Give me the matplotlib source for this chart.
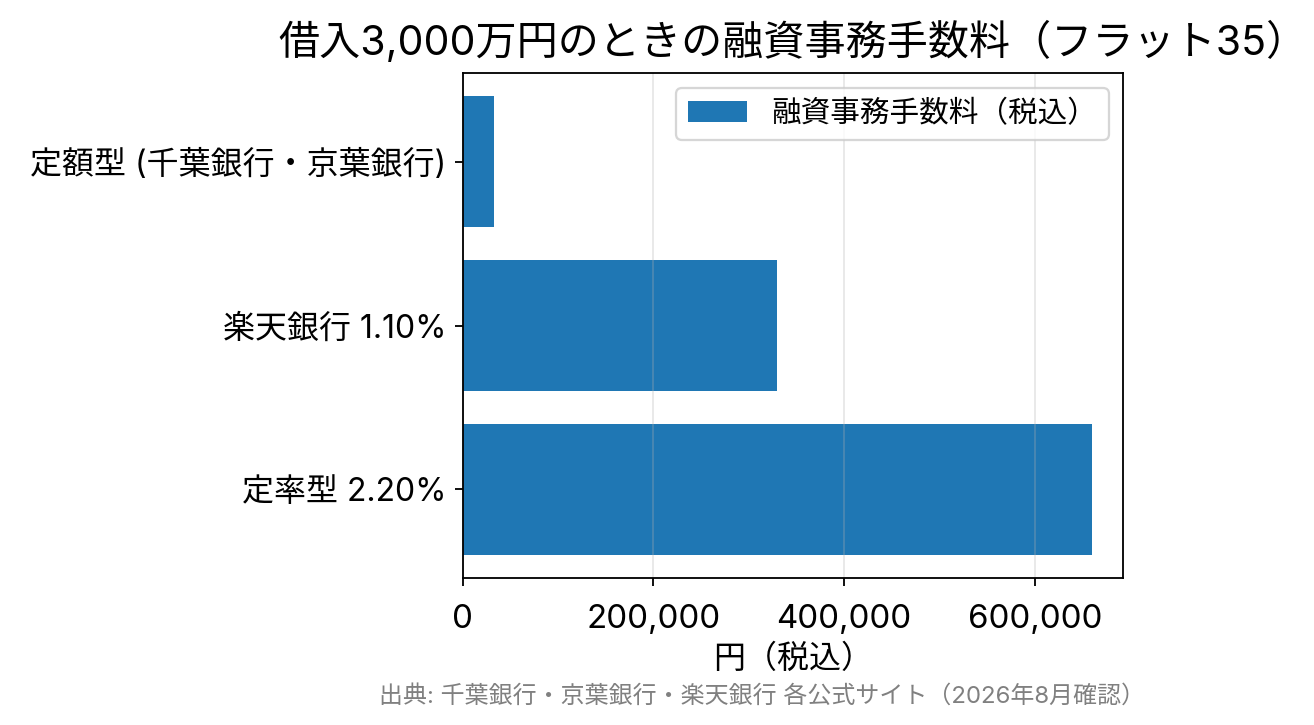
import matplotlib
matplotlib.use("Agg")
import matplotlib.pyplot as plt
from matplotlib.ticker import FuncFormatter

# Inter for the latin/digit parts (wider, closer to the original), CJK falls through
plt.rcParams['font.family'] = ['Inter', 'Noto Sans CJK JP', 'DejaVu Sans']

# data (bottom to top)
labels = ['定率型 2.20%', '楽天銀行 1.10%', '定額型 (千葉銀行・京葉銀行)']
fees = [660000, 330000, 33000]
series_name = '融資事務手数料（税込）'

fig = plt.figure(figsize=(8, 725 / 164.25), dpi=164.25)
ax = fig.add_axes([0.352, 0.203, 0.503, 0.696])

ax.barh(labels, fees, height=0.8, color='#1f77b4', label=series_name)

ax.set_title('借入3,000万円のときの融資事務手数料（フラット35）', fontsize=18, pad=8)
ax.set_xlabel('円（税込）', fontsize=14, labelpad=4)
ax.xaxis.set_major_formatter(FuncFormatter(lambda v, p: f'{int(v):,}'))
ax.set_xticks([0, 200000, 400000, 600000])
ax.tick_params(axis='both', labelsize=14)
ax.tick_params(axis='x', labelsize=14.5, pad=8)
ax.grid(axis='x', alpha=0.3)
ax.legend(loc='upper right', fontsize=13)

fig.text(0.58, 0.039, '出典: 千葉銀行・京葉銀行・楽天銀行 各公式サイト（2026年8月確認）',
         ha='center', va='center', fontsize=10.5, color='gray')

fig.savefig('out.png', dpi=164.25)
